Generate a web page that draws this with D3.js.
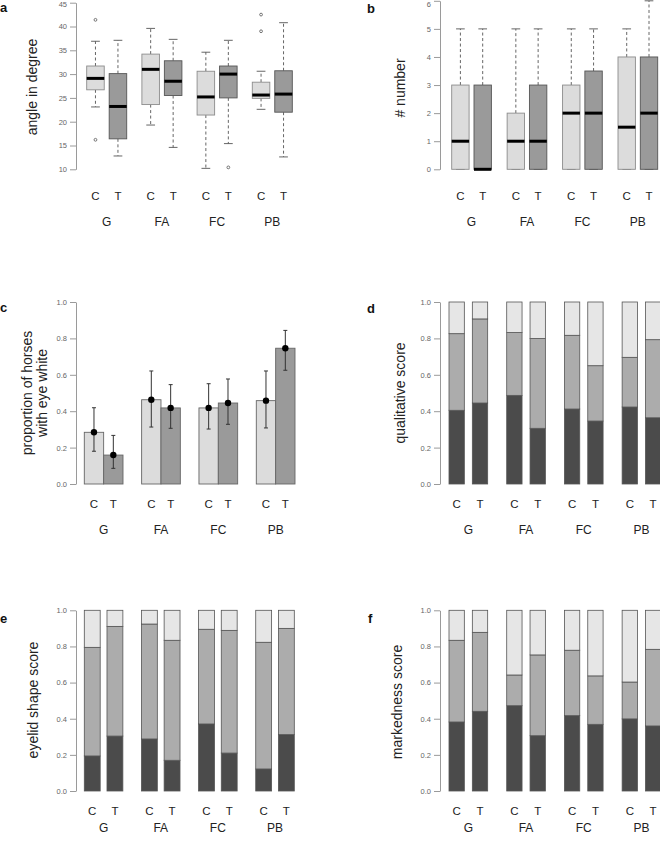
<!DOCTYPE html>
<html>
<head>
<meta charset="utf-8">
<script src="https://cdn.jsdelivr.net/npm/d3@7"></script>
<style>
  html, body { margin: 0; padding: 0; background: #fff; }
  svg { display: block; font-family: "Liberation Sans", Arial, Helvetica, sans-serif; }
</style>
</head>
<body>
<script>
// ---------------- DATA ----------------
const groups = ["G", "FA", "FC", "PB"];
const treatments = ["C", "T"];
// order of entries in the arrays below: G-C, G-T, FA-C, FA-T, FC-C, FC-T, PB-C, PB-T

// (a) angle in degree - box plot statistics
const angleLow      = [23.1, 12.8, 19.3, 14.6, 10.2, 15.4, 22.6, 12.6];
const angleQ1       = [26.7, 16.4, 23.6, 25.5, 21.4, 25.0, 24.9, 22.0];
const angleMedian   = [29.1, 23.2, 31.0, 28.5, 25.2, 30.0, 25.6, 25.8];
const angleQ3       = [31.7, 30.1, 34.2, 32.8, 30.6, 31.7, 28.3, 30.7];
const angleHigh     = [36.9, 37.1, 39.6, 37.3, 34.6, 37.1, 30.6, 40.8];
const angleOutliers = [[41.4, 16.2], [], [], [], [], [10.4], [42.5, 39.0], []];
const angleTicks    = [10, 15, 20, 25, 30, 35, 40, 45];

// (b) # number - box plot statistics
const numberLow    = [0, 0, 0, 0, 0, 0, 0, 0];
const numberQ1     = [0, 0, 0, 0, 0, 0, 0, 0];
const numberMedian = [1, 0, 1, 1, 2, 2, 1.5, 2];
const numberQ3     = [3, 3, 2, 3, 3, 3.5, 4, 4];
const numberHigh   = [5, 5, 5, 5, 5, 5, 5, 6];
const numberTicks  = [0, 1, 2, 3, 4, 5, 6];

// (c) proportion of horses with eye white
const eyeWhiteProp = [0.284, 0.159, 0.463, 0.418, 0.418, 0.445, 0.458, 0.746];
const eyeWhiteLow  = [0.180, 0.086, 0.313, 0.306, 0.302, 0.328, 0.308, 0.625];
const eyeWhiteHigh = [0.419, 0.267, 0.621, 0.546, 0.551, 0.577, 0.621, 0.844];

const propTicks = [0, 0.2, 0.4, 0.6, 0.8, 1.0];

// (d) qualitative score proportions (low / mid / high)
const qualLow  = [0.405, 0.445, 0.487, 0.306, 0.412, 0.346, 0.423, 0.364];
const qualMid  = [0.421, 0.462, 0.345, 0.493, 0.405, 0.304, 0.273, 0.429];
const qualHigh = [0.174, 0.093, 0.168, 0.201, 0.183, 0.350, 0.304, 0.207];

// (e) eyelid shape score proportions
const eyelidLow  = [0.194, 0.304, 0.288, 0.170, 0.371, 0.210, 0.122, 0.312];
const eyelidMid  = [0.601, 0.607, 0.636, 0.664, 0.524, 0.679, 0.701, 0.588];
const eyelidHigh = [0.205, 0.089, 0.076, 0.166, 0.105, 0.111, 0.177, 0.100];

// (f) markedness score proportions
const markLow  = [0.382, 0.441, 0.472, 0.306, 0.417, 0.369, 0.399, 0.360];
const markMid  = [0.452, 0.437, 0.170, 0.447, 0.362, 0.268, 0.204, 0.424];
const markHigh = [0.166, 0.122, 0.358, 0.247, 0.221, 0.363, 0.397, 0.216];

// ---------------- DRAW ----------------
const W = 660, H = 841;
const svg = d3.select("body").append("svg").attr("width", W).attr("height", H);

const entries = [];
groups.forEach(g => treatments.forEach(t => entries.push({ g, t })));

const FILL_C = "#dcdcdc", FILL_T = "#9a9a9a";
const STACK_COLORS = { low: "#4b4b4b", mid: "#acacac", high: "#e6e6e6" };

function makeX(x0, x1, padG, padI) {
  const gx = d3.scaleBand().domain(groups).range([x0, x1]).paddingInner(padG).paddingOuter(0);
  const tx = d3.scaleBand().domain(treatments).range([0, gx.bandwidth()]).paddingInner(padI).paddingOuter(0);
  return { gx, tx, left: e => gx(e.g) + tx(e.t), w: tx.bandwidth() };
}

function drawFrame(p) {
  const g = svg.append("g");
  // y axis
  const ax = d3.axisLeft(p.y).tickValues(p.ticks).tickSize(6).tickSizeOuter(0).tickPadding(3)
    .tickFormat(p.fmt);
  const axg = g.append("g").attr("transform", `translate(${p.axisX},0)`).call(ax);
  axg.select(".domain").attr("stroke", "#9a9a9a");
  axg.selectAll(".tick line").attr("stroke", "#9a9a9a");
  axg.selectAll(".tick text").attr("fill", "#666").attr("font-size", 7.5)
    .attr("font-family", "'Liberation Sans', Arial, sans-serif");
  // keep a label that sits at the very top edge fully inside the picture
  axg.selectAll(".tick").each(function (d) {
    if (p.y(d) < 4) d3.select(this).select("text").attr("dy", "0.32em").attr("y", 4 - p.y(d));
  });
  // treatment labels
  entries.forEach(e => {
    g.append("text").attr("x", p.X.left(e) + p.X.w / 2).attr("y", p.ctY)
      .attr("text-anchor", "middle").attr("dominant-baseline", "central")
      .attr("font-size", 11.5).attr("fill", "#222").text(e.t);
  });
  // group labels
  groups.forEach(gr => {
    g.append("text").attr("x", p.X.gx(gr) + p.X.gx.bandwidth() / 2).attr("y", p.groupY)
      .attr("text-anchor", "middle").attr("dominant-baseline", "central")
      .attr("font-size", 12).attr("fill", "#222").text(gr);
  });
  // y title
  const lines = p.title;
  lines.forEach((ln, i) => {
    const tx = p.titleX + (i - (lines.length - 1) / 2) * 15.5;
    g.append("text").attr("transform", `translate(${tx},${p.titleY}) rotate(-90)`)
      .attr("text-anchor", "middle").attr("dominant-baseline", "central")
      .attr("font-size", 14).attr("fill", "#222").text(ln);
  });
  // panel letter
  g.append("text").attr("x", p.letterX).attr("y", p.letterY).attr("font-size", 13)
    .attr("font-weight", "bold").attr("fill", "#111").text(p.letter);
  return g;
}

function drawBoxes(p, low, q1, med, q3, high, outliers) {
  const g = drawFrame(p);
  entries.forEach((e, i) => {
    const x = p.X.left(e), w = p.X.w, cx = x + w / 2;
    const isC = e.t === "C";
    // whiskers
    [[q3[i], high[i]], [q1[i], low[i]]].forEach(([a, b]) => {
      if (a !== b) {
        g.append("line").attr("x1", cx).attr("x2", cx).attr("y1", p.y(a)).attr("y2", p.y(b))
          .attr("stroke", "#555").attr("stroke-width", 0.9).attr("stroke-dasharray", "3,2.5");
      }
      g.append("line").attr("x1", cx - w / 4).attr("x2", cx + w / 4).attr("y1", p.y(b)).attr("y2", p.y(b))
        .attr("stroke", "#555").attr("stroke-width", 0.9);
    });
    // box
    g.append("rect").attr("x", x).attr("width", w)
      .attr("y", p.y(q3[i])).attr("height", p.y(q1[i]) - p.y(q3[i]))
      .attr("fill", isC ? FILL_C : FILL_T).attr("stroke", isC ? "#8c8c8c" : "#555")
      .attr("stroke-width", 0.9);
    // median
    g.append("line").attr("x1", x).attr("x2", x + w).attr("y1", p.y(med[i])).attr("y2", p.y(med[i]))
      .attr("stroke", "#000").attr("stroke-width", 3);
    // outliers
    if (outliers) outliers[i].forEach(v => {
      g.append("circle").attr("cx", cx).attr("cy", p.y(v)).attr("r", 1.4)
        .attr("fill", "none").attr("stroke", "#555").attr("stroke-width", 0.8);
    });
  });
}

function drawProp(p, prop, lo, hi) {
  const g = drawFrame(p);
  entries.forEach((e, i) => {
    const x = p.X.left(e), w = p.X.w;
    g.append("rect").attr("x", x).attr("width", w)
      .attr("y", p.y(prop[i])).attr("height", p.y(0) - p.y(prop[i]))
      .attr("fill", e.t === "C" ? FILL_C : FILL_T).attr("stroke", "#666").attr("stroke-width", 0.9);
  });
  entries.forEach((e, i) => {
    const cx = p.X.left(e) + p.X.w / 2;
    g.append("line").attr("x1", cx).attr("x2", cx).attr("y1", p.y(lo[i])).attr("y2", p.y(hi[i]))
      .attr("stroke", "#333").attr("stroke-width", 1);
    [lo[i], hi[i]].forEach(v => g.append("line").attr("x1", cx - 2).attr("x2", cx + 2)
      .attr("y1", p.y(v)).attr("y2", p.y(v)).attr("stroke", "#333").attr("stroke-width", 1));
    g.append("circle").attr("cx", cx).attr("cy", p.y(prop[i])).attr("r", 3.2).attr("fill", "#000");
  });
}

function drawStack(p, lowArr, midArr, highArr) {
  const g = drawFrame(p);
  const rows = entries.map((e, i) => ({ ...e, low: lowArr[i], mid: midArr[i], high: highArr[i] }));
  const series = d3.stack().keys(["low", "mid", "high"])(rows);
  series.forEach(s => {
    s.forEach(d => {
      const e = d.data;
      g.append("rect").attr("x", p.X.left(e)).attr("width", p.X.w)
        .attr("y", p.y(d[1])).attr("height", p.y(d[0]) - p.y(d[1]))
        .attr("fill", STACK_COLORS[s.key]).attr("stroke", "#555").attr("stroke-width", 0.8);
    });
  });
}

const f1 = d3.format(".1f"), f0 = d3.format("d");

// Panel a
drawBoxes({
  X: makeX(86.7, 292.3, 0.275, 0.22),
  y: d3.scaleLinear().domain([10, 45]).range([169.3, 2.7]),
  ticks: angleTicks, fmt: f0, axisX: 76, ctY: 195.7, groupY: 221.7,
  title: ["angle in degree"], titleX: 32, titleY: 87, letter: "a", letterX: 0, letterY: 12
}, angleLow, angleQ1, angleMedian, angleQ3, angleHigh, angleOutliers);

// Panel b
drawBoxes({
  X: makeX(451.7, 657.7, 0.284, 0.22),
  y: d3.scaleLinear().domain([0, 6]).range([169.3, 0.8]),
  ticks: numberTicks, fmt: f0, axisX: 440, ctY: 195.7, groupY: 221.7,
  title: ["# number"], titleX: 400, titleY: 88, letter: "b", letterX: 367, letterY: 13
}, numberLow, numberQ1, numberMedian, numberQ3, numberHigh, null);

// Panel c
drawProp({
  X: makeX(84.3, 295, 0.325, 0),
  y: d3.scaleLinear().domain([0, 1]).range([484, 302]),
  ticks: propTicks, fmt: f1, axisX: 76, ctY: 504, groupY: 530,
  title: ["proportion of horses", "with eye white"], titleX: 34.5, titleY: 393,
  letter: "c", letterX: 0, letterY: 312
}, eyeWhiteProp, eyeWhiteLow, eyeWhiteHigh);

// Panel d
drawStack({
  X: makeX(449, 660.8, 0.33, 0.343),
  y: d3.scaleLinear().domain([0, 1]).range([484, 302]),
  ticks: propTicks, fmt: f1, axisX: 440, ctY: 504, groupY: 530,
  title: ["qualitative score"], titleX: 400, titleY: 393, letter: "d", letterX: 367, letterY: 313
}, qualLow, qualMid, qualHigh);

// Panel e
drawStack({
  X: makeX(84.3, 294.3, 0.325, 0.3),
  y: d3.scaleLinear().domain([0, 1]).range([791, 610.3]),
  ticks: propTicks, fmt: f1, axisX: 76, ctY: 810.7, groupY: 828,
  title: ["eyelid shape score"], titleX: 33, titleY: 700, letter: "e", letterX: 0, letterY: 623
}, eyelidLow, eyelidMid, eyelidHigh);

// Panel f
drawStack({
  X: makeX(449, 660.8, 0.33, 0.343),
  y: d3.scaleLinear().domain([0, 1]).range([791, 610.3]),
  ticks: propTicks, fmt: f1, axisX: 440, ctY: 810.7, groupY: 828,
  title: ["markedness score"], titleX: 397, titleY: 702, letter: "f", letterX: 368, letterY: 623
}, markLow, markMid, markHigh);
</script>
</body>
</html>
